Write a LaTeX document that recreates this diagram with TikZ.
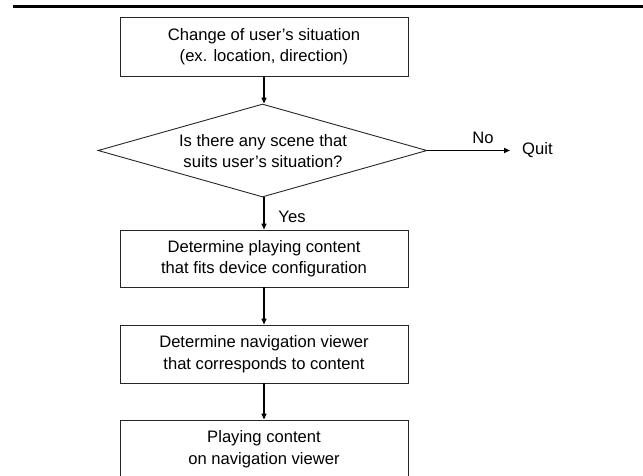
\documentclass[tikz,border=0pt]{standalone}
\usepackage{fontspec}
\setmainfont{Liberation Sans}
\usetikzlibrary{shapes.geometric,arrows.meta}
\begin{document}
\begin{tikzpicture}[x=1pt,y=-1pt,
  every node/.style={font=\fontsize{16.6}{21.5}\selectfont},
  procbox/.style={draw=black!85,line width=0.9pt,minimum width=288pt,inner sep=0pt,align=center},
  flow/.style={line width=1.4pt,-{Triangle[length=6pt,width=5pt]}},
  lbl/.style={inner sep=0pt}]
\useasboundingbox (0,0) rectangle (643,475);
\draw[line width=3pt] (13,6.3) -- (643,6.3);
\node[procbox,minimum height=59pt] (b1) at (264,46.5) {Change of user's situation\\(ex. location, direction)};
\node[draw=black!85,line width=0.9pt,shape=diamond,minimum width=329pt,minimum height=93pt,inner sep=0pt] (d) at (262.5,150.5) {};
\node[lbl,align=center] (dt) at (263,151) {Is there any scene that\\suits user's situation?};
\node[procbox,minimum height=57pt] (b2) at (264,258.5) {Determine playing content\\that fits device configuration};
\node[procbox,minimum height=58pt] (b3) at (264,354) {Determine navigation viewer\\that corresponds to content};
\node[procbox,minimum height=58pt] (b4) at (264,449) {Playing content\\on navigation viewer};
\coordinate (q) at (510,150.5);
\node[lbl,anchor=west] (quit) at (522,150.5) {Quit};
\node[lbl] (no) at (483,138) {No};
\node[lbl] (yes) at (292,217) {Yes};
\draw[flow] (b1.south) -- (b1.south |- d.north);
\draw[flow] (d.east) -- (q);
\draw[flow] (b2.north |- d.south) -- (b2.north);
\draw[flow] (b2.south) -- (b3.north);
\draw[flow] (b3.south) -- (b4.north);
\end{tikzpicture}
\end{document}
